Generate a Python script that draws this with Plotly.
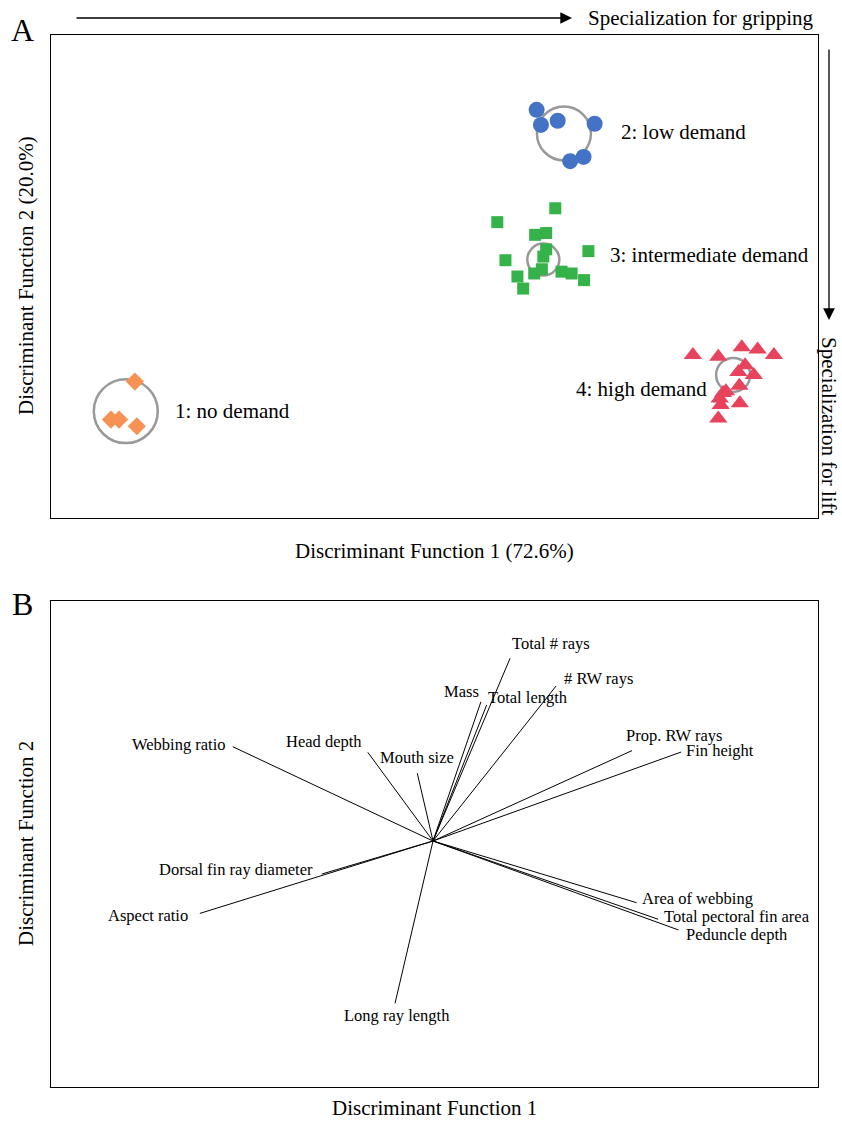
import plotly.graph_objects as go

# ---------------- Panel A data (discriminant scores) ----------------
g1_x = [-6.25, -6.75, -6.58, -6.21]
g1_y = [-1.74, -2.37, -2.37, -2.48]
g2_x = [2.13, 2.22, 2.57, 3.34, 2.83, 3.11]
g2_y = [2.76, 2.51, 2.58, 2.53, 1.91, 1.98]
g3_x = [2.52, 1.31, 2.10, 2.33, 2.33, 2.27, 1.48, 3.21, 1.73, 1.85, 2.08, 2.24, 2.65, 2.86, 3.12]
g3_y = [1.13, 0.90, 0.69, 0.72, 0.45, 0.33, 0.27, 0.42, 0.00, -0.20, 0.05, 0.12, 0.08, 0.05, -0.06]
g4_x = [5.39, 5.92, 6.41, 6.74, 7.08, 6.48, 6.34, 6.66, 6.36, 6.02, 5.95, 6.37, 5.97, 5.92, 6.08]
g4_y = [-1.30, -1.33, -1.17, -1.21, -1.30, -1.47, -1.58, -1.63, -1.81, -1.93, -2.02, -2.10, -2.13, -2.35, -1.90]

group_labels = ["1: no demand", "2: low demand", "3: intermediate demand", "4: high demand"]
centroid_x = [-6.44, 2.70, 2.27, 6.23]
centroid_y = [-2.23, 2.37, 0.28, -1.63]
circle_r = [0.667, 0.563, 0.334, 0.355]   # in DF1 units
label_x = [-5.46, 3.85, 3.62, 2.91]
label_y = [-2.23, 2.39, 0.36, -1.86]

# ---------------- Panel B data (loadings) ----------------
var_names = ["Total # rays", "# RW rays", "Mass", "Total length", "Prop. RW rays",
             "Fin height", "Mouth size", "Head depth", "Webbing ratio",
             "Dorsal fin ray diameter", "Aspect ratio", "Long ray length",
             "Area of webbing", "Total pectoral fin area", "Peduncle depth"]
load_x = [0.201, 0.321, 0.125, 0.140, 0.519, 0.647, -0.041, -0.170, -0.522,
          -0.290, -0.608, -0.099, 0.531, 0.587, 0.640]
load_y = [0.752, 0.638, 0.573, 0.560, 0.372, 0.366, 0.279, 0.365, 0.388,
          -0.136, -0.298, -0.668, -0.254, -0.322, -0.366]

# label placement (style)
lab_xanchor = ["left", "left", "right", "left", "left", "left", "center", "right", "right",
               "right", "right", "center", "left", "left", "left"]
lab_xshift = [0, 6, 0, -1, -8, 3, 0, -4, -5, -7, -10, 2, 3, 4, 6]
lab_yshift = [15, 7, 10, 7, 15, 2, 16, 11, 2, 5, -2, -12, 4, 3, -5]

FONT = "Liberation Serif"
W, H = 842, 1121
xA = [-8, 8]
yA = [-4, 4]
# pixel frames
A_left, A_right, A_top, A_bot = 51, 818, 35, 518
B_left, B_right, B_top, B_bot = 51, 818, 601, 1087
pxx = (A_right - A_left) / (xA[1] - xA[0])
pxy = (A_bot - A_top) / (yA[1] - yA[0])

fig = go.Figure()

colors = ["#F79154", "#4472C4", "#36B24A", "#E8435C"]
symbols = ["diamond", "circle", "square", "triangle-up"]
sizes = [14, 16, 12, 16]
for gx, gy, c, s, sz in zip([g1_x, g2_x, g3_x, g4_x], [g1_y, g2_y, g3_y, g4_y], colors, symbols, sizes):
    fig.add_trace(go.Scatter(x=gx, y=gy, mode="markers", xaxis="x", yaxis="y",
                             marker=dict(color=c, symbol=s, size=sz, line=dict(width=0)),
                             showlegend=False, hoverinfo="skip"))

shapes = []
for cx, cy, r in zip(centroid_x, centroid_y, circle_r):
    ry = r * pxx / pxy
    shapes.append(dict(type="circle", xref="x", yref="y", x0=cx - r, x1=cx + r,
                       y0=cy - ry, y1=cy + ry, line=dict(color="#999999", width=2.5),
                       layer="below"))

annotations = []
for t, lx, ly in zip(group_labels, label_x, label_y):
    annotations.append(dict(text=t, x=lx, y=ly, xref="x", yref="y", showarrow=False,
                            xanchor="left", yanchor="middle",
                            font=dict(family=FONT, size=21, color="black")))

# Panel B lines
for vx, vy in zip(load_x, load_y):
    fig.add_trace(go.Scatter(x=[0, vx], y=[0, vy], mode="lines", xaxis="x2", yaxis="y2",
                             line=dict(color="black", width=1), showlegend=False,
                             hoverinfo="skip"))
for n, vx, vy, xa, xs, ys in zip(var_names, load_x, load_y, lab_xanchor, lab_xshift, lab_yshift):
    annotations.append(dict(text=n, x=vx, y=vy, xref="x2", yref="y2", showarrow=False,
                            xanchor=xa, yanchor="middle", xshift=xs, yshift=ys,
                            font=dict(family=FONT, size=16.5, color="black")))

def px(x):
    return x / W

def py(y):
    return 1 - y / H

txt = dict(family=FONT, size=21, color="black")
annotations += [
    dict(text="Discriminant Function 1 (72.6%)", x=px(434), y=py(551), xref="paper", yref="paper",
         showarrow=False, xanchor="center", yanchor="middle", font=txt),
    dict(text="Discriminant Function 2 (20.0%)", x=px(26), y=py(276), xref="paper", yref="paper",
         showarrow=False, xanchor="center", yanchor="middle", textangle=-90, font=txt),
    dict(text="Discriminant Function 1", x=px(434), y=py(1108), xref="paper", yref="paper",
         showarrow=False, xanchor="center", yanchor="middle", font=txt),
    dict(text="Discriminant Function 2", x=px(26), y=py(844), xref="paper", yref="paper",
         showarrow=False, xanchor="center", yanchor="middle", textangle=-90, font=txt),
    dict(text="A", x=px(22), y=py(30), xref="paper", yref="paper", showarrow=False,
         xanchor="center", yanchor="middle", font=dict(family=FONT, size=32, color="black")),
    dict(text="B", x=px(22), y=py(604), xref="paper", yref="paper", showarrow=False,
         xanchor="center", yanchor="middle", font=dict(family=FONT, size=32, color="black")),
    dict(text="", x=px(572), y=py(18), xref="paper", yref="paper", showarrow=True,
         ax=-497, ay=0, arrowhead=2, arrowsize=1.8, arrowwidth=1.3, arrowcolor="black"),
    dict(text="Specialization for gripping", x=px(586), y=py(18), xref="paper", yref="paper",
         showarrow=False, xanchor="left", yanchor="middle", font=txt),
    dict(text="", x=px(829), y=py(320), xref="paper", yref="paper", showarrow=True,
         ax=0, ay=-272, arrowhead=2, arrowsize=1.8, arrowwidth=1.3, arrowcolor="black"),
    dict(text="Specialization for lift", x=px(829), y=py(426), xref="paper", yref="paper",
         showarrow=False, xanchor="center", yanchor="middle", textangle=90, font=txt),
]

axis_common = dict(showgrid=False, zeroline=False, showticklabels=False, ticks="",
                   showline=True, mirror=True, linecolor="black", linewidth=1.3, fixedrange=True)

xB0 = -(433 - B_left) / ((B_right - B_left) / 2)
xB1 = (B_right - 433) / ((B_right - B_left) / 2)
yB0 = -(B_bot - 841) / ((B_bot - B_top) / 2)
yB1 = (841 - B_top) / ((B_bot - B_top) / 2)

fig.update_layout(
    width=W, height=H, margin=dict(l=0, r=0, t=0, b=0),
    paper_bgcolor="white", plot_bgcolor="white",
    xaxis=dict(domain=[px(A_left), px(A_right)], range=xA, anchor="y", **axis_common),
    yaxis=dict(domain=[py(A_bot), py(A_top)], range=yA, anchor="x", **axis_common),
    xaxis2=dict(domain=[px(B_left), px(B_right)], range=[xB0, xB1], anchor="y2", **axis_common),
    yaxis2=dict(domain=[py(B_bot), py(B_top)], range=[yB0, yB1], anchor="x2", **axis_common),
    shapes=shapes, annotations=annotations, showlegend=False,
)

fig.write_html("out.html", config={"displayModeBar": False},
               post_script="document.body.style.margin='0';document.body.style.overflow='hidden';")
